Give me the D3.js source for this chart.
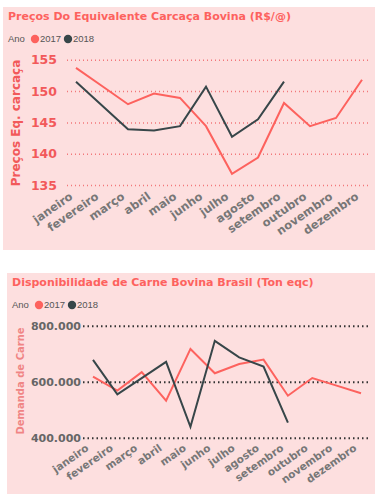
<!DOCTYPE html>
<html>
<head>
<meta charset="utf-8">
<script src="https://cdn.jsdelivr.net/npm/d3@7"></script>
<style>
  body { margin: 0; background: #fff; font-family: "DejaVu Sans", sans-serif; }
  svg { display: block; }
</style>
</head>
<body>
<svg id="chart" width="379" height="495"></svg>
<script>
const months = ['janeiro', 'fevereiro', 'março', 'abril', 'maio', 'junho', 'julho',
  'agosto', 'setembro', 'outubro', 'novembro', 'dezembro'];
const years = ['2017', '2018'];

// preços equivalente carcaça (R$/@)
const preco2017 = [153.7, 150.8, 147.9, 149.6, 148.9, 144.4, 136.8, 139.4, 148.1, 144.4, 145.7, 151.8];
const preco2018 = [151.5, 147.7, 143.9, 143.7, 144.4, 150.7, 142.7, 145.5, 151.5];
const precoTicks = [135, 140, 145, 150, 155];

// disponibilidade de carne (ton eqc)
const carne2017 = [618000, 568000, 634000, 532000, 717000, 630000, 663000, 679000, 550000, 613000, 586000, 559000];
const carne2018 = [678000, 555000, 613000, 671000, 439000, 746000, 687000, 654000, 454000];
const carneTicks = [400000, 600000, 800000];

const colors = { '2017': '#FD625E', '2018': '#374649' };
const br = d3.formatLocale({ decimal: ',', thousands: '.', grouping: [3], currency: ['R$', ''] });

const svg = d3.select('#chart');

function panel(opt) {
  const g = svg.append('g');

  g.append('rect')
    .attr('x', opt.box[0]).attr('y', opt.box[1])
    .attr('width', opt.box[2]).attr('height', opt.box[3])
    .attr('fill', '#FDDFDF');

  g.append('text')
    .attr('x', opt.box[0] + 5).attr('y', opt.box[1] + 13)
    .attr('fill', '#FD625E')
    .style('font-weight', 'bold')
    .style('font-size', opt.titleSize + 'px')
    .text(opt.title);

  // legenda
  const ly = opt.legendY;
  const legendFont = '"Liberation Sans", Arial, sans-serif';
  g.append('text').attr('x', opt.box[0] + 5).attr('y', ly + 3.3)
    .attr('fill', '#555').style('font-family', legendFont).style('font-size', '9.5px').text('Ano');
  const lx = [opt.box[0] + 32, opt.box[0] + 65];
  years.forEach((yr, i) => {
    g.append('circle').attr('cx', lx[i]).attr('cy', ly).attr('r', 4.2).attr('fill', colors[yr]);
    g.append('text').attr('x', lx[i] + 5).attr('y', ly + 3.3)
      .attr('fill', '#555').style('font-family', legendFont).style('font-size', '9.5px').text(yr);
  });

  const x = d3.scalePoint().domain(months).range(opt.xRange);
  const y = d3.scaleLinear().domain(opt.yDomain).range(opt.yRange);

  const yAxis = g.append('g')
    .attr('transform', `translate(${opt.gridLeft},0)`)
    .call(d3.axisLeft(y).tickValues(opt.ticks).tickFormat(opt.fmt)
      .tickSize(-(370 - opt.gridLeft)).tickPadding(opt.gridLeft - opt.labelRight));
  yAxis.select('.domain').remove();
  yAxis.selectAll('line')
    .attr('stroke', opt.gridColor)
    .attr('stroke-width', opt.gridWidth)
    .attr('stroke-dasharray', opt.gridDash);
  yAxis.selectAll('text')
    .attr('fill', opt.tickColor)
    .style('font-family', '"DejaVu Sans", sans-serif')
    .style('font-weight', 'bold')
    .style('font-size', opt.tickSize + 'px');

  const xAxis = g.append('g')
    .attr('transform', `translate(0,${opt.yRange[0]})`)
    .call(d3.axisBottom(x).tickSize(0).tickPadding(0));
  xAxis.select('.domain').remove();
  xAxis.selectAll('text')
    .attr('fill', '#777')
    .attr('text-anchor', 'end')
    .attr('dy', 0)
    .attr('y', 0)
    .attr('transform', `translate(${opt.xlab[0]},${opt.xlab[1]}) rotate(-35)`)
    .style('font-family', '"DejaVu Sans", sans-serif')
    .style('font-weight', 'bold')
    .style('font-size', opt.xSize + 'px');

  g.append('text')
    .attr('transform', `translate(${opt.yTitle[0]},${opt.yTitle[1]}) rotate(-90)`)
    .attr('text-anchor', 'middle')
    .attr('fill', opt.yTitleColor)
    .style('font-weight', 'bold')
    .style('font-size', opt.yTitleSize + 'px')
    .text(opt.yTitleText);

  const line = d3.line().x((d, i) => x(months[i])).y(d => y(d));
  opt.series.forEach((s, i) => {
    g.append('path')
      .datum(s)
      .attr('d', line)
      .attr('fill', 'none')
      .attr('stroke', colors[years[i]])
      .attr('stroke-width', 2)
      .attr('stroke-linejoin', 'miter');
  });
}

panel({
  box: [3, 7, 372, 243],
  title: 'Preços Do Equivalente Carcaça Bovina (R$/@)',
  titleSize: 11,
  legendY: 39,
  xRange: [76, 362],
  yDomain: [135, 155],
  yRange: [185.1, 59.7],
  ticks: precoTicks,
  fmt: d3.format('d'),
  gridLeft: 67,
  labelRight: 57,
  gridColor: '#F2777A',
  gridWidth: 1.5,
  gridDash: '1,3',
  tickColor: '#F2595A',
  tickSize: 12.5,
  xlab: [-3, 13],
  xSize: 11.5,
  yTitle: [20, 123],
  yTitleColor: '#F2595A',
  yTitleSize: 12,
  yTitleText: 'Preços Eq. carcaça',
  series: [preco2017, preco2018]
});

panel({
  box: [7, 273, 368, 221],
  title: 'Disponibilidade de Carne Bovina Brasil (Ton eqc)',
  titleSize: 11,
  legendY: 305,
  xRange: [93, 361],
  yDomain: [400000, 800000],
  yRange: [437.7, 325.7],
  ticks: carneTicks,
  fmt: br.format(','),
  gridLeft: 83,
  labelRight: 81,
  gridColor: '#333',
  gridWidth: 2,
  gridDash: '1.5,3',
  tickColor: '#666',
  tickSize: 11,
  xlab: [-4, 12],
  xSize: 10.5,
  yTitle: [24, 381],
  yTitleColor: '#F08585',
  yTitleSize: 10,
  yTitleText: 'Demanda de Carne',
  series: [carne2017, carne2018]
});
</script>
</body>
</html>
